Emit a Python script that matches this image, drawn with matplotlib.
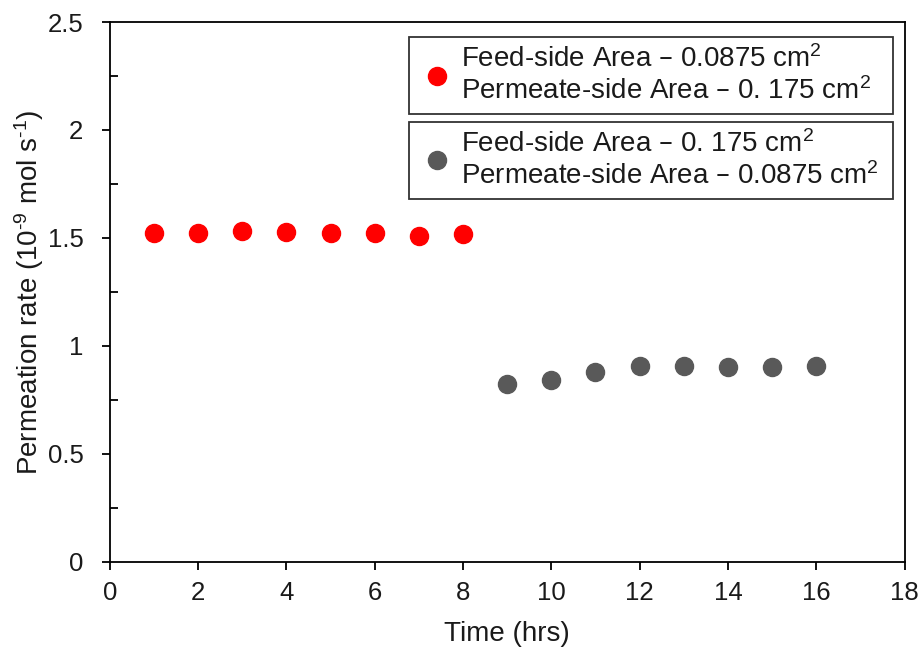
import matplotlib
matplotlib.use("Agg")
import matplotlib.pyplot as plt
from matplotlib.ticker import MultipleLocator
from matplotlib.lines import Line2D

plt.rcParams['font.family'] = ['Liberation Sans', 'DejaVu Sans']
plt.rcParams['mathtext.default'] = 'regular'

time_a = [1, 2, 3, 4, 5, 6, 7, 8]
rate_a = [1.522, 1.522, 1.533, 1.526, 1.522, 1.522, 1.511, 1.516]
time_b = [9, 10, 11, 12, 13, 14, 15, 16]
rate_b = [0.822, 0.840, 0.878, 0.909, 0.909, 0.902, 0.902, 0.909]

label_a = "Feed-side Area \u2013 0.0875 cm$^{2}$\nPermeate-side Area \u2013 0. 175 cm$^{2}$"
label_b = "Feed-side Area \u2013 0. 175 cm$^{2}$\nPermeate-side Area \u2013 0.0875 cm$^{2}$"

txt = '#1a1a1a'
fig = plt.figure(figsize=(9.23, 6.48), dpi=100)
ax = fig.add_axes([0.119, 0.133, 0.861, 0.833])

ax.plot(time_a, rate_a, 'o', color='#FF0000', markersize=13, linestyle='none')
ax.plot(time_b, rate_b, 'o', color='#595959', markersize=13, linestyle='none')

ax.set_xlim(0, 18)
ax.set_ylim(0, 2.5)
ax.xaxis.set_major_locator(MultipleLocator(2))
ax.yaxis.set_minor_locator(MultipleLocator(0.25))
ax.set_yticks([0, 0.5, 1, 1.5, 2, 2.5])
ax.set_yticklabels(['0', '0.5', '1', '1.5', '2', '2.5'])
ax.tick_params(axis='both', which='major', direction='out', length=6, width=1.3,
               labelsize=18.5, colors='black', labelcolor=txt)
ax.tick_params(axis='x', which='major', pad=8)
ax.tick_params(axis='y', which='major', pad=13)
ax.tick_params(axis='y', which='minor', direction='in', length=6, width=1.3)
ax.tick_params(axis='x', which='minor', bottom=False)
for s in ax.spines.values():
    s.set_linewidth(1.3)
    s.set_color('black')

ax.set_xlabel('Time (hrs)', fontsize=20, color=txt, labelpad=11)
ax.set_ylabel('Permeation rate (10$^{\u2010 9}$ mol s$^{\u2010 1}$)', fontsize=20, color=txt, labelpad=1)

h1 = Line2D([], [], marker='o', color='#FF0000', markersize=13, linestyle='none')
h2 = Line2D([], [], marker='o', color='#595959', markersize=13, linestyle='none')

common = dict(loc='upper left', mode='expand', fontsize=20, frameon=True, fancybox=False,
              edgecolor='black', handletextpad=0.22, borderpad=0.3, handlelength=1.35,
              borderaxespad=0, labelcolor=txt)
leg1 = ax.legend([h1], [label_a], bbox_to_anchor=(0.377, 0.972, 0.608, 0.0), **common)
leg1.get_frame().set_linewidth(1.3)
ax.add_artist(leg1)
leg2 = ax.legend([h2], [label_b], bbox_to_anchor=(0.377, 0.815, 0.608, 0.0), **common)
leg2.get_frame().set_linewidth(1.3)

fig.savefig('out.png', dpi=100)
